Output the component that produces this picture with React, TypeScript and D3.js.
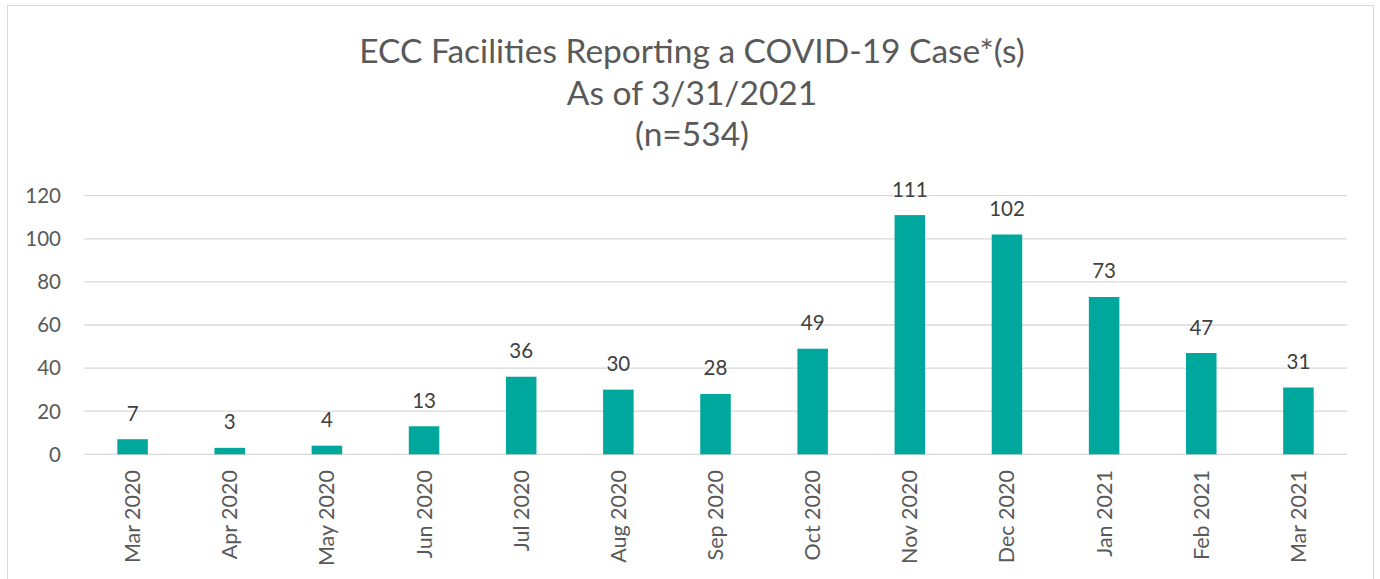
import React from "react";
import * as d3 from "d3";

const categories = ["Mar 2020","Apr 2020","May 2020","Jun 2020","Jul 2020","Aug 2020","Sep 2020","Oct 2020","Nov 2020","Dec 2020","Jan 2021","Feb 2021","Mar 2021"];
const values = [7,3,4,13,36,30,28,49,111,102,73,47,31];
const yTicks = [0,20,40,60,80,100,120];
const titleLines = ["ECC Facilities Reporting a COVID-19 Case*(s)","As of 3/31/2021","(n=534)"];

const W = 1380, H = 579;
const left = 84, right = 1347, top = 195.7, bottom = 454.3;
const FONT = "Lato, 'Open Sans', sans-serif";

export default function App() {
  const x = d3.scaleBand<string>().domain(categories).range([left, right]).paddingInner(0.686).paddingOuter(0.343);
  const y = d3.scaleLinear().domain([0, 120]).range([bottom, top]);
  return (
    <svg width={W} height={H} style={{ position: "absolute", left: 0, top: 0 }} fontFamily={FONT}>
      <rect x={0} y={0} width={W} height={H} fill="#fff" />
      <rect x={7.5} y={5.5} width={1366} height={H + 10} fill="#fff" stroke="#d9d9d9" strokeWidth={1} />
      {titleLines.map((t, i) => (
        <text key={i} x={692} y={63 + i * 41.5} textAnchor="middle" fontSize={33.5} fill="#595959">{t}</text>
      ))}
      {yTicks.map(t => (
        <g key={t}>
          <line x1={left} x2={right} y1={y(t)} y2={y(t)} stroke="#d9d9d9" strokeWidth={1.3} />
          <text x={61} y={y(t)} dy="0.36em" textAnchor="end" fontSize={20.5} fill="#595959">{t}</text>
        </g>
      ))}
      {categories.map((c, i) => {
        const bx = x(c)!;
        const cx = bx + x.bandwidth() / 2;
        return (
          <g key={c}>
            <rect x={bx} y={y(values[i])} width={x.bandwidth()} height={y(0) - y(values[i])} fill="#00A79D" />
            <text x={cx} y={y(values[i]) - 18.5} textAnchor="middle" fontSize={20.5} fill="#404040">{values[i]}</text>
            <text transform={`translate(${cx + 7.5},470) rotate(-90)`} textAnchor="end" fontSize={21.5} fill="#595959">{c}</text>
          </g>
        );
      })}
    </svg>
  );
}
